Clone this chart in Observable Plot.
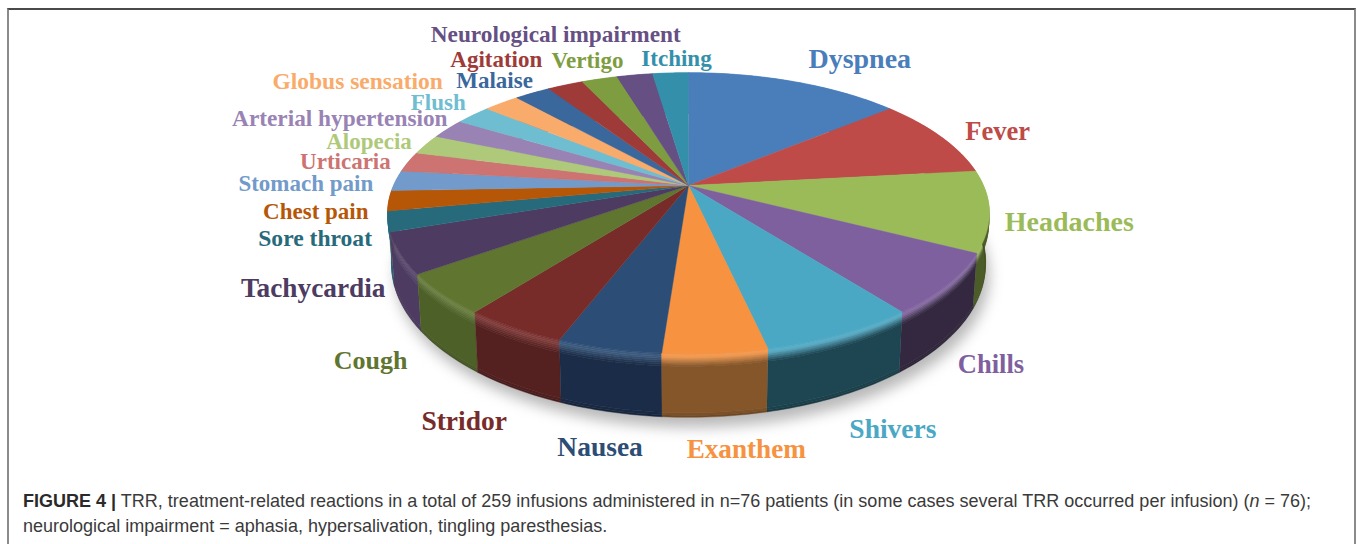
<!DOCTYPE html>
<html>
<head>
<meta charset="utf-8">
<script src="https://cdn.jsdelivr.net/npm/d3@7"></script>
<script src="https://cdn.jsdelivr.net/npm/@observablehq/plot@0.6"></script>
<style>
html,body{margin:0;padding:0;background:#fff;overflow:hidden}
#frame{position:absolute;left:7px;top:8px;width:1345px;height:536px;border-left:2px solid #8a8a8a;border-right:2px solid #8a8a8a;border-top:2px solid #4a4a4a}
#chart{position:absolute;left:0;top:0}
#chart svg{display:block}
#caption{position:absolute;left:23px;top:489px;width:1310px;font:18.03px/25px "Liberation Sans",sans-serif;color:#3a3a3a;white-space:nowrap}
#caption b{color:#2a2a2a}
</style>
</head>
<body>
<div id="frame"></div>
<div id="chart"></div>
<div id="caption"><b>FIGURE 4 |</b> TRR, treatment-related reactions in a total of 259 infusions administered in n=76 patients (in some cases several TRR occurred per infusion) (<i>n</i> = 76);<br>neurological impairment = aphasia, hypersalivation, tingling paresthesias.</div>
<script>
// Data
const categories = ["Dyspnea","Fever","Headaches","Chills","Shivers","Exanthem","Nausea","Stridor","Cough","Tachycardia","Sore throat","Chest pain","Stomach pain","Urticaria","Alopecia","Arterial hypertension","Flush","Globus sensation","Malaise","Agitation","Vertigo","Neurological impairment","Itching"];
const counts = [6,4,4,3,3,2,2,2,2,2,1,1,1,1,1,1,1,1,1,1,1,1,1];

// Styles
const colors = ["#4a7ebb","#be4b48","#9bbb59","#7f609e","#4aa8c5","#f69240","#2c4d75","#772c2a","#5f7530","#4d3b62","#276a7c","#b65708","#729aca","#cd7371","#afc97a","#9983b5","#6fbdd1","#f9ab6b","#3a679c","#9e3b38","#7e9d40","#664f83","#3490aa"];
const sideColors = ["#4a7ebb","#be4b48","#4c5c28","#33283f","#1d4552","#85562a","#1a2c47","#552020","#4d6028","#4d3b62","#276a7c","#b65708","#729aca","#cd7371","#afc97a","#9983b5","#6fbdd1","#f9ab6b","#3a679c","#9e3b38","#7e9d40","#664f83","#3490aa"];
const labelFontSizes = [28,26.5,28,26.5,27.5,27.2,27.5,27.5,26,27.3,23.6,23,23,23,23,23.3,23,23.5,23,23,23,23.3,23];
const labelNudge = [[65,-23],[57,-5],[80,11],[43,80],[52,95],[31,96],[-9,99],[-50,94],[-72,67],[-87,35],[-73,17],[-73,11],[-90,3],[-63,0],[-57,-3],[-108,-10],[-35,-12],[-144,-22],[-38,-12],[-69,-25],[-12,-18],[-79,-40],[6,-14]];

// Perspective of the disc
const W = 1357, H = 470;
const cx = 688, k = 0.197;
const rimTop = {cy:185, R:295, S:135};
const rimBot = {cy:235, R:291, S:146};
const proj = (deg, d) => {
  const a = deg*Math.PI/180, u = Math.sin(a), v = -Math.cos(a), w = 1 - k*v;
  return [cx + d.R*u/w, d.cy + d.S*v/w];
};
const total = d3.sum(counts);
let acc = 0;
const slices = counts.map((c,i) => {
  const a0 = acc/total*360; acc += c; const a1 = acc/total*360;
  return {i, a0, a1, mid:(a0+a1)/2};
});
const arcAngles = (a0,a1) => { const n = Math.max(2, Math.ceil(a1-a0)); return d3.range(n+1).map(j => a0+(a1-a0)*j/n); };

// Top faces
const topPts = slices.flatMap(s => {
  const pts = [{x:cx,y:rimTop.cy,z:s.i,c:colors[s.i]}];
  arcAngles(s.a0,s.a1).forEach(a => { const [x,y] = proj(a,rimTop); pts.push({x,y,z:s.i,c:colors[s.i]}); });
  return pts;
});

// Rim bands (top edge to bottom edge), painted from the back of the disc to the front
const bandStops = [0,.02,.05,.08,.11,.14,.17,.2,.93,.97,1];
const lerpP = (p,q,t) => [p[0]+(q[0]-p[0])*t, p[1]+(q[1]-p[1])*t];
const bandColor = (s,t) => {
  const base = d3.rgb(colors[s.i]), side = d3.rgb(sideColors[s.i]);
  const hi = d3.interpolateRgb(base,"#fff")(0.1);
  if (t < .05) return d3.interpolateRgb(base,hi)(t/.05);
  if (t < .2) return d3.interpolateRgb(hi,side)((t-.05)/.15);
  if (t > .93) return d3.interpolateRgb(side,"#000")((t-.93)/.07*.2);
  return side.formatHex();
};
const sidePts = [];
d3.sort(slices, s => -Math.abs(s.mid-180)).forEach((s,order) => {
  d3.pairs(bandStops).forEach(([t0,t1],b) => {
    const z = order*100+b, c = bandColor(s,(t0+t1)/2);
    const angs = arcAngles(s.a0,s.a1);
    angs.forEach(a => { const [x,y] = lerpP(proj(a,rimTop),proj(a,rimBot),t0); sidePts.push({x,y,z,c}); });
    angs.slice().reverse().forEach(a => { const [x,y] = lerpP(proj(a,rimTop),proj(a,rimBot),t1); sidePts.push({x,y,z,c}); });
  });
});

// Soft shadow beneath
const shadowPts = d3.range(0,361,2).map(a => { const [x,y] = proj(a,rimBot); return {x:x+4,y:y+10}; });

// Labels
const labels = slices.map(s => {
  const [x,y] = proj(s.mid,rimTop);
  return {x:x+labelNudge[s.i][0], y:y+labelNudge[s.i][1], t:categories[s.i], c:colors[s.i], f:labelFontSizes[s.i]};
});

const plot = Plot.plot({
  width:W, height:H, margin:0,
  x:{domain:[0,W],range:[0,W],axis:null},
  y:{domain:[0,H],range:[0,H],axis:null},
  style:{background:"transparent",overflow:"visible"},
  marks:[
    Plot.line(shadowPts,{x:"x",y:"y",fill:"#9a9a9a",fillOpacity:.7,imageFilter:"blur(7px)"}),
    Plot.line(sidePts,{x:"x",y:"y",z:"z",fill:"c",stroke:"c",strokeWidth:.4}),
    Plot.line(topPts,{x:"x",y:"y",z:"z",fill:"c",stroke:"c",strokeWidth:.4}),
    ...d3.groups(labels,d=>d.f).map(([f,ds]) => Plot.text(ds,{x:"x",y:"y",text:"t",fill:"c",fontSize:f,fontWeight:"bold",fontFamily:"'Liberation Serif',serif",textAnchor:"middle",lineAnchor:"middle"}))
  ]
});
document.getElementById("chart").appendChild(plot);
</script>
</body>
</html>
